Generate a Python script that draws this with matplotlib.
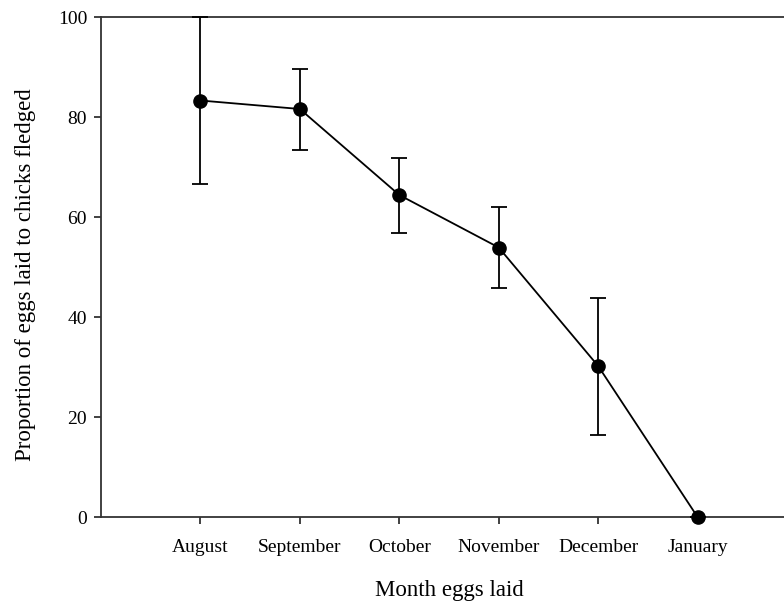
import matplotlib
matplotlib.use("Agg")
import matplotlib.pyplot as plt

months = ["August", "September", "October", "November", "December", "January"]
proportion = [83.3, 81.6, 64.4, 53.9, 30.2, 0.0]
err = [16.7, 8.1, 7.5, 8.1, 13.7, 0.0]

plt.rcParams['font.family'] = ['Liberation Serif', 'DejaVu Serif']

fig = plt.figure(figsize=(7.84, 6.03), dpi=100)
W, H = 784, 603
left, right, top, bottom = 101, 797, 17, 517
ax = fig.add_axes([left / W, 1 - bottom / H, (right - left) / W, (bottom - top) / H])

x = list(range(1, len(months) + 1))
ax.errorbar(x, proportion, yerr=err, color='black', lw=1.3, marker='o',
            markersize=9.5, capsize=6, elinewidth=1.3, capthick=1.3,
            clip_on=False, zorder=3)

ax.set_xlim(0, 7)
ax.set_ylim(0, 100)
ax.set_yticks([0, 20, 40, 60, 80, 100])
ax.set_xticks(x)
ax.set_xticklabels(months)
ax.spines['right'].set_visible(False)
for s in ['left', 'top', 'bottom']:
    ax.spines[s].set_linewidth(1.3)
    ax.spines[s].set_color('#333333')
ax.tick_params(axis='both', direction='out', length=5, width=1.3, color='#333333',
               labelsize=14)
ax.tick_params(axis='x', pad=11)
ax.tick_params(axis='y', pad=5)

ax.set_xlabel("Month eggs laid", fontsize=16.5, labelpad=17)
ax.set_ylabel("Proportion of eggs laid to chicks fledged", fontsize=16.5)
ax.yaxis.set_label_coords(-0.094, 0.484)

fig.savefig("out.png", dpi=100)
